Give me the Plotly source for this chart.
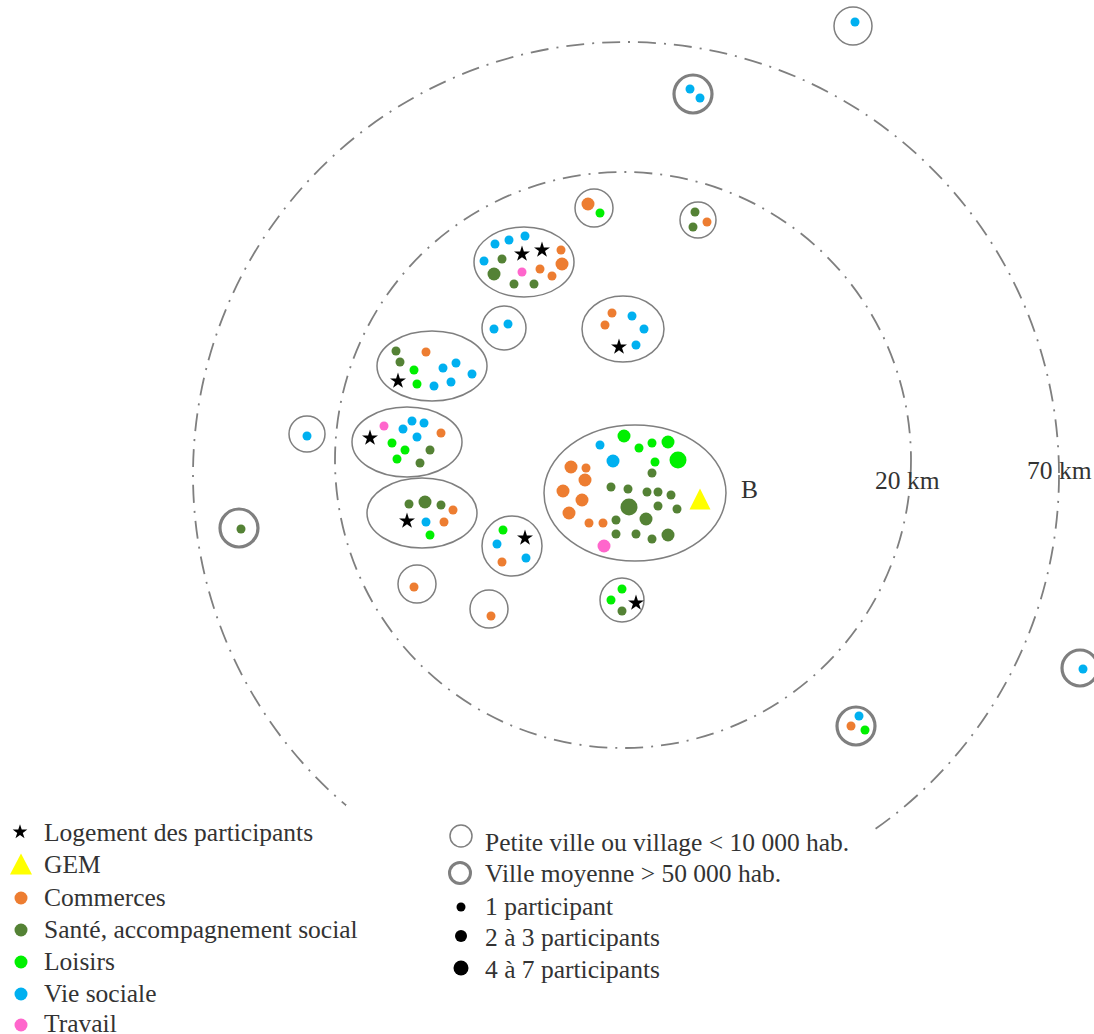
import plotly.graph_objects as go

# Activity places: x, y (picture units), tier (1 = 1 participant, 2 = 2-3, 3 = 4-7, 4 = largest)
commerces_x = [588, 561, 562, 540, 552, 612, 605, 426, 441, 453, 444, 502, 414, 491, 571, 586, 585, 563, 582, 569, 589, 603, 707, 851]
commerces_y = [204, 250, 264, 269, 276, 313, 325, 352, 433, 510, 522, 562, 587, 616, 467, 468, 480, 491, 500, 513, 523, 523, 222, 726]
commerces_t = [2, 1, 2, 1, 1, 1, 1, 1, 1, 1, 1, 1, 1, 1, 2, 1, 2, 2, 2, 2, 1, 1, 1, 1]

sante_x = [502, 494, 514, 534, 396, 400, 430, 420, 409, 425, 441, 652, 611, 628, 647, 658, 671, 629, 658, 677, 646, 616, 616, 636, 652, 668, 622, 695, 693, 241]
sante_y = [259, 274, 284, 284, 351, 362, 450, 463, 504, 502, 505, 473, 487, 489, 492, 492, 495, 507, 506, 509, 519, 520, 534, 534, 539, 535, 611, 212, 227, 529]
sante_t = [1, 2, 1, 1, 1, 1, 1, 1, 1, 2, 1, 1, 1, 1, 1, 1, 1, 4, 1, 1, 2, 1, 1, 1, 1, 2, 1, 1, 1, 1]

loisirs_x = [600, 414, 417, 392, 405, 397, 430, 503, 624, 639, 652, 668, 678, 655, 622, 611, 865]
loisirs_y = [213, 370, 384, 443, 450, 459, 535, 530, 436, 448, 443, 442, 460, 462, 589, 600, 730]
loisirs_t = [1, 1, 1, 1, 1, 1, 1, 1, 2, 1, 1, 2, 4, 1, 1, 1, 1]

vie_x = [495, 509, 525, 484, 508, 494, 632, 644, 636, 443, 456, 472, 451, 434, 403, 412, 424, 417, 426, 497, 526, 600, 613, 855, 690, 700, 307, 1083, 859]
vie_y = [244, 240, 236, 261, 324, 329, 316, 329, 345, 368, 363, 374, 382, 386, 429, 421, 423, 437, 522, 544, 558, 445, 461, 22, 89, 98, 436, 669, 716]
vie_t = [1, 1, 1, 1, 1, 1, 1, 1, 1, 1, 1, 1, 1, 1, 1, 1, 1, 1, 1, 1, 1, 1, 2, 1, 1, 1, 1, 1, 1]

travail_x = [522, 384, 604]
travail_y = [272, 426, 546]
travail_t = [1, 1, 2]

logement_x = [522, 542, 619, 398, 370, 407, 525, 636]
logement_y = [254, 250, 347, 381, 438, 521, 538, 603]

gem_x = [700]
gem_y = [499]

# Towns: centre and radii
petite_cx = [594, 524, 504, 623, 432, 407, 422, 512, 635, 417, 489, 622, 853, 698, 307]
petite_cy = [208, 262, 328, 329, 366, 442, 513, 546, 493, 584, 609, 600, 26, 220, 434]
petite_rx = [19, 50, 22, 41, 55, 55, 55, 30, 91, 19, 19, 22, 19, 18, 18]
petite_ry = [19, 35, 22, 33, 35, 35, 35, 30, 68, 19, 19, 22, 19, 18, 18]

moyenne_cx = [693, 239, 1080, 856]
moyenne_cy = [94, 528, 668, 726]
moyenne_r = [19, 19, 18, 19]

# Distance rings
ring_names = ["20 km", "70 km"]
ring_cx = [623, 626]
ring_cy = [460, 475]
ring_r = [288, 433]
ring_label_x = [907, 1059]
ring_label_y = [480, 470]

# Legend
legend1_labels = ["Logement des participants", "GEM", "Commerces", "Santé, accompagnement social", "Loisirs", "Vie sociale", "Travail"]
legend1_y = [832, 864, 897, 929, 961, 993, 1023]
legend2_labels = ["Petite ville ou village < 10 000 hab.", "Ville moyenne > 50 000 hab.", "1 participant", "2 à 3 participants", "4 à 7 participants"]
legend2_y = [842, 873, 906, 937, 969]

COL = dict(commerces="#ED7D31", sante="#548235", loisirs="#00F000", vie="#00B0F0", travail="#FF66CC")
TIER = {1: 9, 2: 13, 3: 13, 4: 17}
FONT = "Liberation Serif"
TXT = "#333333"
RING = "#7F7F7F"

fig = go.Figure()


def dots(x, y, t, col):
    fig.add_trace(go.Scatter(x=x, y=y, mode="markers", hoverinfo="skip",
                             marker=dict(color=col, opacity=1, size=[TIER[v] for v in t], line=dict(width=0))))


dots(commerces_x, commerces_y, commerces_t, COL["commerces"])
dots(sante_x, sante_y, sante_t, COL["sante"])
dots(loisirs_x, loisirs_y, loisirs_t, COL["loisirs"])
dots(vie_x, vie_y, vie_t, COL["vie"])
dots(travail_x, travail_y, travail_t, COL["travail"])
fig.add_trace(go.Scatter(x=logement_x, y=logement_y, mode="markers",
                         marker=dict(symbol="star", color="black", size=12, line=dict(width=0))))


def triangle(cx, cy, w, h):
    fig.add_trace(go.Scatter(x=[cx - w / 2, cx + w / 2, cx, cx - w / 2],
                             y=[cy + h / 2, cy + h / 2, cy - h / 2, cy + h / 2],
                             mode="lines", fill="toself", fillcolor="#FFFF00",
                             line=dict(width=0, color="#FFFF00")))


triangle(gem_x[0], gem_y[0], 21, 21)

shapes = []
for cx, cy, r in zip(ring_cx, ring_cy, ring_r):
    shapes.append(dict(type="circle", xref="x", yref="y", x0=cx - r, x1=cx + r, y0=cy - r, y1=cy + r,
                       line=dict(color=RING, width=1.8, dash="18px,8px,2px,8px"), layer="below"))
# white panel behind the legend hides the foot of the outer ring
shapes.append(dict(type="rect", xref="x", yref="y", x0=346, x1=875, y0=805, y1=1034,
                   fillcolor="white", line=dict(width=0), layer="below"))
for cx, cy, rx, ry in zip(petite_cx, petite_cy, petite_rx, petite_ry):
    shapes.append(dict(type="circle", xref="x", yref="y", x0=cx - rx, x1=cx + rx, y0=cy - ry, y1=cy + ry,
                       line=dict(color=RING, width=1.5), layer="below"))
for cx, cy, r in zip(moyenne_cx, moyenne_cy, moyenne_r):
    shapes.append(dict(type="circle", xref="x", yref="y", x0=cx - r, x1=cx + r, y0=cy - r, y1=cy + r,
                       line=dict(color=RING, width=3.2), layer="below"))

# Legend symbols, left column
fig.add_trace(go.Scatter(x=[20], y=[legend1_y[0]], mode="markers",
                         marker=dict(symbol="star", color="black", size=11, line=dict(width=0))))
triangle(21, legend1_y[1], 22, 21)
for col, yy in zip(["commerces", "sante", "loisirs", "vie", "travail"], [898, 930, 962, 994, 1025]):
    fig.add_trace(go.Scatter(x=[21], y=[yy], mode="markers",
                             marker=dict(color=COL[col], size=13, line=dict(width=0))))
# Legend symbols, right column
fig.add_trace(go.Scatter(x=[461], y=[836], mode="markers",
                         marker=dict(color="white", size=22, line=dict(width=1.5, color=RING))))
fig.add_trace(go.Scatter(x=[460], y=[873], mode="markers",
                         marker=dict(color="white", size=21, line=dict(width=3, color=RING))))
for yy, s in zip(legend2_y[2:], [9, 12, 15]):
    fig.add_trace(go.Scatter(x=[461], y=[yy + 1 if s == 9 else yy - 1], mode="markers",
                             marker=dict(color="black", size=s, line=dict(width=0))))

ann = []


def label(x, y, text, size=25.5, anchor="left"):
    ann.append(dict(x=x, y=y, xref="x", yref="y", text=text, showarrow=False, xanchor=anchor, yanchor="middle",
                    font=dict(family=FONT, size=size, color=TXT)))


for t, yy in zip(legend1_labels, legend1_y):
    label(41.5, yy, t)
for t, yy in zip(legend2_labels, legend2_y):
    label(482.5, yy, t)
for t, xx, yy in zip(ring_names, ring_label_x, ring_label_y):
    label(xx, yy, t, anchor="center")
label(749, 489, "B", anchor="center")

fig.update_layout(width=1094, height=1034, margin=dict(l=0, r=0, t=0, b=0),
                  paper_bgcolor="white", plot_bgcolor="white", showlegend=False,
                  xaxis=dict(range=[0, 1094], visible=False, fixedrange=True),
                  yaxis=dict(range=[1034, 0], visible=False, fixedrange=True),
                  shapes=shapes, annotations=ann)
fig.write_html("out.html", post_script="document.body.style.margin='0';",
               config=dict(displayModeBar=False))
